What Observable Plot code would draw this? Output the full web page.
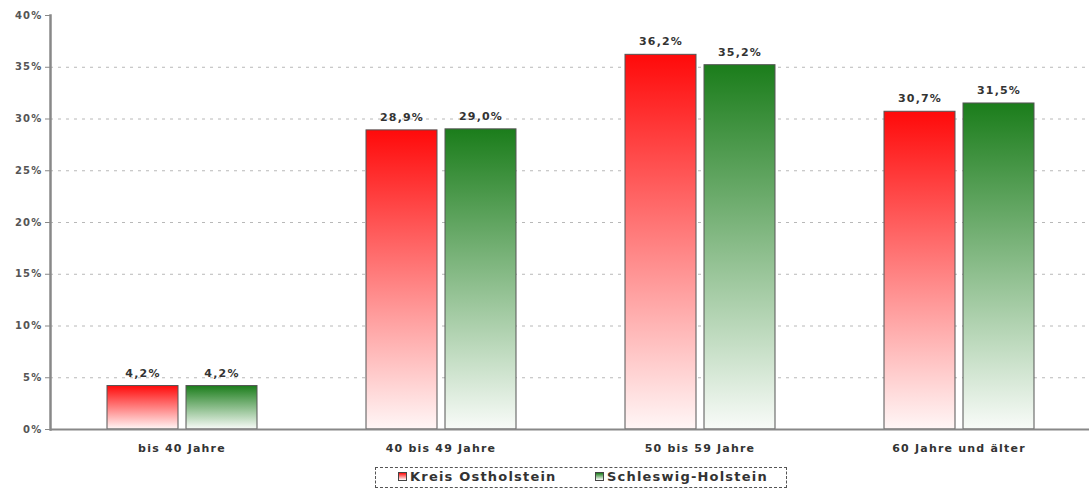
<!DOCTYPE html>
<html>
<head>
<meta charset="utf-8">
<script src="https://cdn.jsdelivr.net/npm/d3@7"></script>
<script src="https://cdn.jsdelivr.net/npm/@observablehq/plot@0.6"></script>
<style>
  html, body { margin: 0; padding: 0; background: #fff; }
  body { font-family: "DejaVu Sans", Verdana, sans-serif; width: 1089px; height: 489px; overflow: hidden; }
  #chart svg text { letter-spacing: 1.2px; }
  #legend {
    position: relative;
    margin-left: 375px; margin-top: 7px; width: 412px; height: 21px;
    border: 1px dashed #555; box-sizing: border-box;
    font-size: 13px; font-weight: bold; color: #333; letter-spacing: 1.2px;
  }
  .item { display: flex; align-items: center; position: absolute; top: 1px; }
  .sw { width: 7px; height: 7px; border: 1px solid #444; margin-right: 3px; }
</style>
</head>
<body>
<div id="chart"></div>
<div id="legend"></div>
<script>
// Altersstruktur: Anteile je Altersgruppe
const categories = ["bis 40 Jahre", "40 bis 49 Jahre", "50 bis 59 Jahre", "60 Jahre und älter"];
const seriesNames = ["Kreis Ostholstein", "Schleswig-Holstein"];
const ostholstein = [4.2, 28.9, 36.2, 30.7];
const schleswigHolstein = [4.2, 29.0, 35.2, 31.5];
const yTicks = [0, 5, 10, 15, 20, 25, 30, 35, 40];
const seriesColors = ["#ff0a0a", "#1b7d1b"];

const rowsA = categories.map((c, i) => ({category: c, value: ostholstein[i]}));
const rowsB = categories.map((c, i) => ({category: c, value: schleswigHolstein[i]}));
const fmt = v => d3.format(".1f")(v).replace(".", ",") + "%";

const font = "DejaVu Sans, Verdana, sans-serif";

const plot = Plot.plot({
  width: 1089,
  height: 460,
  marginTop: 15,
  marginBottom: 31,
  marginLeft: 50,
  marginRight: 0,
  style: {fontFamily: font, background: "#fff"},
  x: {domain: categories, padding: 0, label: null},
  y: {domain: [0, 40], label: null},
  marks: [
    Plot.ruleY(yTicks.filter(t => t > 0 && t < 40), {stroke: "#b8b8b8", strokeDasharray: "3,5", strokeWidth: 1}),
    Plot.barY(rowsA, {x: "category", y: "value", fill: "url(#gradA)", stroke: "#555", strokeWidth: 1, insetLeft: 55, insetRight: 133}),
    Plot.barY(rowsB, {x: "category", y: "value", fill: "url(#gradB)", stroke: "#555", strokeWidth: 1, insetLeft: 134, insetRight: 54}),
    Plot.text(rowsA, {x: "category", y: "value", text: d => fmt(d.value), dx: -39, dy: -13, fontSize: 11, fontWeight: "bold", fill: "#333"}),
    Plot.text(rowsB, {x: "category", y: "value", text: d => fmt(d.value), dx: 40, dy: -13, fontSize: 11, fontWeight: "bold", fill: "#333"}),
    Plot.ruleY([0], {stroke: "#888", strokeWidth: 2}),
    Plot.frame({anchor: "left", stroke: "#888", strokeWidth: 2.5}),
    Plot.axisY({ticks: yTicks, tickFormat: d => d + "%", tickSize: 5, tickPadding: 3, fontSize: 10, fontWeight: "bold", color: "#555", stroke: "#888"}),
    Plot.axisX({tickSize: 0, tickPadding: 15, fontSize: 11, fontWeight: "bold", color: "#333"})
  ]
});

// vertical colour gradients for the bars (full colour at the top, fading to white)
const svg = d3.select(plot.tagName === "svg" ? plot : plot.querySelector("svg"));
const defs = svg.insert("defs", ":first-child");
[["gradA", seriesColors[0], "#fff6f6"], ["gradB", seriesColors[1], "#f8fbf8"]].forEach(([id, top, bottom]) => {
  const g = defs.append("linearGradient").attr("id", id).attr("x1", 0).attr("y1", 0).attr("x2", 0).attr("y2", 1);
  g.append("stop").attr("offset", "0%").attr("stop-color", top);
  g.append("stop").attr("offset", "100%").attr("stop-color", bottom);
});

document.getElementById("chart").appendChild(plot);

// legend
const legend = document.getElementById("legend");
const legendX = [22, 219];
seriesNames.forEach((name, i) => {
  const item = document.createElement("div");
  item.className = "item";
  item.style.left = legendX[i] + "px";
  const sw = document.createElement("span");
  sw.className = "sw";
  sw.style.background = `linear-gradient(${seriesColors[i]}, #fff)`;
  item.appendChild(sw);
  item.appendChild(document.createTextNode(name));
  legend.appendChild(item);
});
</script>
</body>
</html>
